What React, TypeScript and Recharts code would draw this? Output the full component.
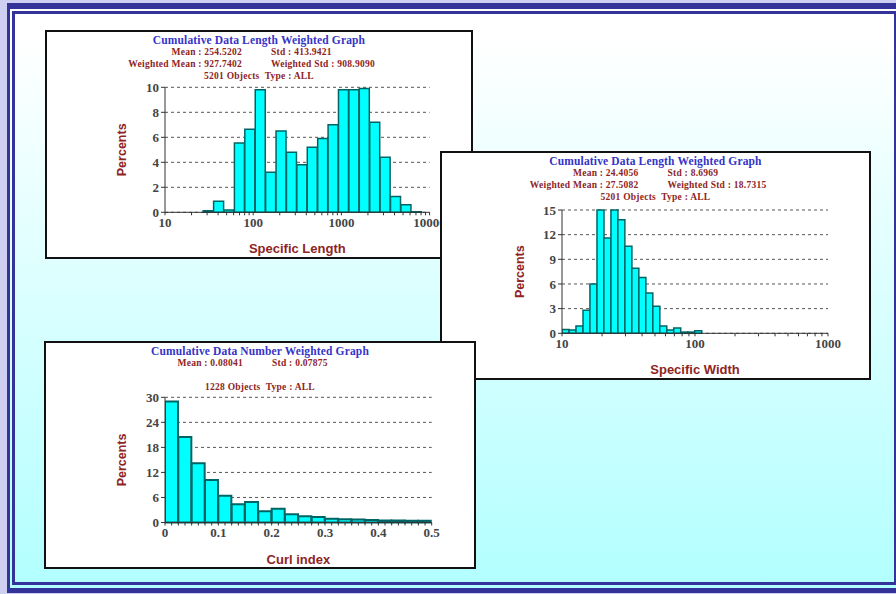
import React from "react";
import { BarChart, Bar, XAxis, YAxis, CartesianGrid } from "recharts";

// Specific Length histogram: bin centres as log10(length), weighted percents
const lengthBinsLog = [
  1.492, 1.61, 1.728, 1.846, 1.964, 2.082, 2.2, 2.318, 2.436, 2.554, 2.672,
  2.79, 2.908, 3.026, 3.144, 3.262, 3.38, 3.498, 3.616, 3.734, 3.852,
];
const lengthPct = [
  0.13, 0.88, 0.19, 5.55, 6.65, 9.8, 3.2, 6.5, 4.8, 3.8, 5.2, 5.9, 7.0, 9.8,
  9.8, 9.9, 7.2, 4.4, 1.26, 0.6, 0.05,
];
const lengthDecades = [1, 2, 3, 4];
const lengthTickLabels = ["10", "100", "1000", "10000"];
const lengthPctTicks = [0, 2, 4, 6, 8, 10];

// Specific Width histogram: bin centres as log10(width)
const widthBinsLog = [
  1.026, 1.079, 1.131, 1.184, 1.236, 1.289, 1.341, 1.394, 1.446, 1.499, 1.551,
  1.604, 1.656, 1.709, 1.761, 1.814, 1.866, 1.919, 1.971, 2.024,
];
const widthPct = [
  0.45, 0.4, 0.9, 2.8, 6.0, 15.0, 11.6, 15.0, 13.8, 10.6, 7.9, 6.8, 4.9, 3.3,
  0.9, 0.4, 0.65, 0.15, 0.15, 0.3,
];
const widthDecades = [1, 2, 3];
const widthTickLabels = ["10", "100", "1000"];
const widthPctTicks = [0, 3, 6, 9, 12, 15];

// Curl index histogram (number weighted)
const curlBins = [
  0.0125, 0.0375, 0.0625, 0.0875, 0.1125, 0.1375, 0.1625, 0.1875, 0.2125,
  0.2375, 0.2625, 0.2875, 0.3125, 0.3375, 0.3625, 0.3875, 0.4125, 0.4375,
  0.4625, 0.4875,
];
const curlPct = [
  29.0, 20.5, 14.2, 10.2, 6.4, 4.4, 4.9, 2.7, 3.3, 2.0, 1.5, 1.3, 0.9, 0.8, 0.7,
  0.6, 0.5, 0.5, 0.4, 0.4,
];
const curlMajorTicks = [0, 0.1, 0.2, 0.3, 0.4, 0.5];
const curlTickLabels = ["0", "0.1", "0.2", "0.3", "0.4", "0.5"];
const curlPctTicks = [0, 6, 12, 18, 24, 30];

const SERIF = "'Liberation Serif', 'Times New Roman', serif";
const SANS = "'Liberation Sans', Arial, sans-serif";
const RED = "#8e2424";

const logTicks = (decades: number[]) => {
  const out: number[] = [];
  decades.forEach((d, i) => {
    out.push(d);
    if (i < decades.length - 1)
      [2, 3, 4, 5, 6, 7, 8, 9].forEach((k) => out.push(d + Math.log10(k)));
  });
  return out;
};

const labelFor = (majors: number[], labels: string[]) => (v: number) => {
  const i = majors.findIndex((m) => Math.abs(m - v) < 1e-9);
  return i >= 0 ? labels[i] : "";
};

type PanelProps = {
  left: number;
  top: number;
  width: number;
  height: number;
  z: number;
  data: { x: number; pct: number }[];
  xDomain: [number, number];
  xTicks: number[];
  xFormat: (v: number) => string;
  yTicks: number[];
  plotLeft: number;
  plotRight: number;
  plotTop: number;
  plotBottom: number;
  labelOffset: number;
  title: string;
  lines: [string, string][];
  objects: string;
  xLabel: string;
  barStroke: number;
};

const detailStyle = (centerY: number): React.CSSProperties => ({
  position: "absolute",
  top: centerY - 4.75,
  font: `bold 9.5px ${SERIF}`,
  lineHeight: "9.5px",
  letterSpacing: "0.25px",
  color: RED,
  whiteSpace: "pre",
});

const Panel = (p: PanelProps) => {
  const w = p.width - 4;
  const h = p.height - 4;
  const cx = w / 2;
  const lineCenters = [21, 32.5];
  return (
    <div
      style={{
        position: "absolute",
        left: p.left,
        top: p.top,
        width: p.width,
        height: p.height,
        boxSizing: "border-box",
        border: "2px solid #111",
        background: "#fff",
        zIndex: p.z,
      }}
    >
      <div
        style={{
          position: "absolute",
          top: 9 - 5.75,
          left: 0,
          width: w,
          textAlign: "center",
          font: `bold 11.5px ${SERIF}`,
          lineHeight: "11.5px",
          letterSpacing: "0.15px",
          color: "#3434c8",
          whiteSpace: "nowrap",
        }}
      >
        {p.title}
      </div>
      {p.lines.map(([a, b], i) => (
        <React.Fragment key={i}>
          <div style={{ ...detailStyle(lineCenters[i]), right: w - (cx - 17) }}>
            {a}
          </div>
          <div style={{ ...detailStyle(lineCenters[i]), left: cx + 12 }}>
            {b}
          </div>
        </React.Fragment>
      ))}
      <div
        style={{ ...detailStyle(45), left: 0, width: w, textAlign: "center" }}
      >
        {p.objects}
      </div>
      <div style={{ position: "absolute", left: 0, top: 0 }}>
        <BarChart
          width={w}
          height={h}
          data={p.data}
          barCategoryGap={0}
          barGap={0}
          margin={{
            top: p.plotTop,
            right: w - p.plotRight,
            bottom: h - p.plotBottom - 40,
            left: p.plotLeft - 50,
          }}
        >
          <CartesianGrid
            vertical={false}
            stroke="#555"
            strokeDasharray="3 3"
          />
          <XAxis
            dataKey="x"
            type="number"
            domain={p.xDomain}
            ticks={p.xTicks}
            interval={0}
            tickFormatter={p.xFormat}
            height={40}
            tickSize={3}
            stroke="#333"
            tick={{ fill: "#444", fontSize: 13, fontFamily: SERIF, fontWeight: "bold" }}
            allowDataOverflow
            label={{
              value: p.xLabel,
              position: "insideBottom",
              offset: -1,
              fill: RED,
              fontSize: 13,
              fontWeight: "bold",
              fontFamily: SANS,
            }}
          />
          <YAxis
            type="number"
            domain={[0, p.yTicks[p.yTicks.length - 1]]}
            ticks={p.yTicks}
            interval={0}
            width={50}
            tickSize={4}
            stroke="#333"
            tick={{ fill: "#444", fontSize: 13, fontFamily: SERIF, fontWeight: "bold" }}
            label={{
              value: "Percents",
              angle: -90,
              position: "insideLeft",
              offset: p.labelOffset,
              fill: RED,
              fontSize: 12.5,
              fontWeight: "bold",
              fontFamily: SANS,
              style: { textAnchor: "middle" },
            }}
          />
          <Bar
            dataKey="pct"
            fill="#00ffff"
            stroke="#006464"
            strokeWidth={p.barStroke}
            isAnimationActive={false}
          />
        </BarChart>
      </div>
    </div>
  );
};

const curlTicks = (() => {
  const out: number[] = [];
  for (let i = 0; i <= 40; i++) out.push(Math.round(i * 0.0125 * 10000) / 10000);
  return out;
})();

export default function App() {
  const lengthData = lengthBinsLog.map((x, i) => ({ x, pct: lengthPct[i] }));
  const widthData = widthBinsLog.map((x, i) => ({ x, pct: widthPct[i] }));
  const curlData = curlBins.map((x, i) => ({ x, pct: curlPct[i] }));

  return (
    <div
      style={{
        position: "fixed",
        left: 0,
        top: 0,
        width: 896,
        height: 594,
        overflow: "hidden",
        background: "#cfcff2",
      }}
    >
      <div
        style={{
          position: "absolute",
          left: 7,
          top: 3,
          width: 900,
          height: 590,
          boxSizing: "border-box",
          borderStyle: "solid",
          borderColor: "#333399",
          borderWidth: "6px 3px 5px 3px",
          background: "linear-gradient(#ffffff 0%, #ffffff 5%, #b2ffff 100%)",
        }}
      />
      <div
        style={{
          position: "absolute",
          left: 12,
          top: 11,
          width: 885,
          height: 574,
          boxSizing: "border-box",
          border: "3px solid #333399",
        }}
      />
      <Panel
        left={45}
        top={30}
        width={428}
        height={229}
        z={1}
        data={lengthData}
        xDomain={[1, 4]}
        xTicks={logTicks(lengthDecades)}
        xFormat={labelFor(lengthDecades, lengthTickLabels)}
        yTicks={lengthPctTicks}
        plotLeft={118}
        plotRight={382.6}
        plotTop={55.3}
        plotBottom={180.3}
        labelOffset={6.7}
        title="Cumulative Data Length Weighted Graph"
        lines={[
          ["Mean : 254.5202", "Std : 413.9421"],
          ["Weighted Mean : 927.7402", "Weighted Std : 908.9090"],
        ]}
        objects={"5201 Objects  Type : ALL"}
        xLabel="Specific Length"
        barStroke={1.5}
      />
      <Panel
        left={440}
        top={151}
        width={431}
        height={229}
        z={2}
        data={widthData}
        xDomain={[1, 3]}
        xTicks={logTicks(widthDecades)}
        xFormat={labelFor(widthDecades, widthTickLabels)}
        yTicks={widthPctTicks}
        plotLeft={120}
        plotRight={386}
        plotTop={57}
        plotBottom={180.3}
        labelOffset={7.7}
        title="Cumulative Data Length Weighted Graph"
        lines={[
          ["Mean : 24.4056", "Std : 8.6969"],
          ["Weighted Mean : 27.5082", "Weighted Std : 18.7315"],
        ]}
        objects={"5201 Objects  Type : ALL"}
        xLabel="Specific Width"
        barStroke={1.5}
      />
      <Panel
        left={44}
        top={341}
        width={432}
        height={228}
        z={3}
        data={curlData}
        xDomain={[0, 0.5]}
        xTicks={curlTicks}
        xFormat={labelFor(curlMajorTicks, curlTickLabels)}
        yTicks={curlPctTicks}
        plotLeft={119}
        plotRight={385.7}
        plotTop={54.3}
        plotBottom={179.5}
        labelOffset={6.7}
        title="Cumulative Data Number Weighted Graph"
        lines={[["Mean : 0.08041", "Std : 0.07875"]]}
        objects={"1228 Objects  Type : ALL"}
        xLabel="Curl index"
        barStroke={2}
      />
    </div>
  );
}
